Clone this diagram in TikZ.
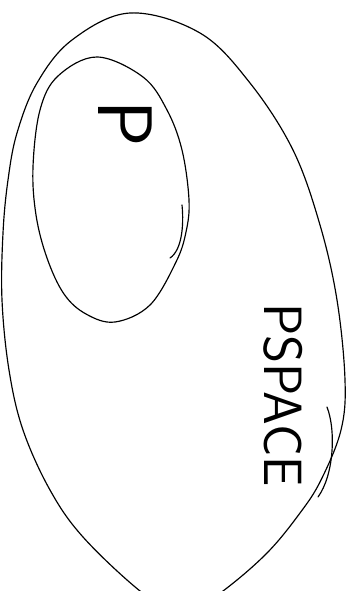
\documentclass[tikz,border=0pt]{standalone}
\usepackage{fontspec}
\usepackage{tikz}
\usetikzlibrary{positioning}
\tikzset{
  traco/.style={draw, line width=1pt, line cap=round, line join=round},
  rotulo/.style={rotate=-90, inner sep=0pt, font=\sffamily\fontsize{#1}{#1}\selectfont},
  rotulo/.default=46,
}

\begin{document}
\begin{tikzpicture}[x=0.03cm, y=-0.03cm]
  \useasboundingbox (0,0) rectangle (354,591);
  \clip (0,0) rectangle (354,591);
  % conjunto maior
  \draw[traco] plot[smooth cycle, tension=0.6] coordinates {
      (130,13) (200,33) (250,83) (293,150) (320,225) (337,300) (345,380)
      (341,430) (321,480) (300,513) (267,553) (223,591) (182,617) (140,591)
      (83,537) (50,490) (23,430) (9,370) (2,300) (3,233) (8,180) (17,133)
      (37,83) (72,40)};
  % conjunto P
  \draw[traco] plot[smooth cycle, tension=0.6] coordinates {
      (97,57) (143,77) (167,110) (182,150) (189,200) (186,232) (176,262)
      (150,305) (115,322) (86,314) (64,294) (47,258) (36,215) (33,167)
      (40,110) (58,76)};
  \draw[traco] (182,205) .. controls (184,225) and (182,250) .. (170,258);
  \draw[traco] (327,407) .. controls (336,430) and (334,475) .. (318,497);
  \node[rotulo=66] (p) at (125,124) {P};
  \node[rotulo] (pspace) at (283,395) {PSPACE};
\end{tikzpicture}
\end{document}
